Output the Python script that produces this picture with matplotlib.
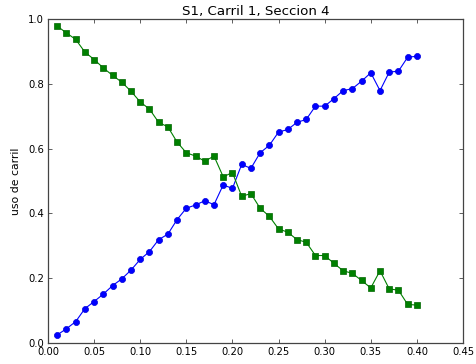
import matplotlib
matplotlib.use("Agg")
import matplotlib.pyplot as plt
import numpy as np

x = [0.01, 0.02, 0.03, 0.04, 0.05, 0.06, 0.07, 0.08, 0.09, 0.10,
     0.11, 0.12, 0.13, 0.14, 0.15, 0.16, 0.17, 0.18, 0.19, 0.20,
     0.21, 0.22, 0.23, 0.24, 0.25, 0.26, 0.27, 0.28, 0.29, 0.30,
     0.31, 0.32, 0.33, 0.34, 0.35, 0.36, 0.37, 0.38, 0.39, 0.40]

carril_azul = [0.025, 0.044, 0.066, 0.106, 0.128, 0.151, 0.177, 0.198, 0.225, 0.258,
               0.282, 0.319, 0.336, 0.381, 0.416, 0.426, 0.439, 0.427, 0.488, 0.477,
               0.551, 0.539, 0.587, 0.610, 0.651, 0.659, 0.681, 0.690, 0.731, 0.731,
               0.754, 0.779, 0.785, 0.808, 0.834, 0.779, 0.836, 0.839, 0.882, 0.885]

carril_verde = [0.978, 0.957, 0.937, 0.898, 0.875, 0.849, 0.826, 0.805, 0.777, 0.744,
                0.722, 0.681, 0.667, 0.620, 0.587, 0.577, 0.561, 0.577, 0.513, 0.526,
                0.453, 0.461, 0.416, 0.391, 0.352, 0.342, 0.319, 0.311, 0.270, 0.270,
                0.246, 0.223, 0.215, 0.193, 0.170, 0.223, 0.167, 0.163, 0.119, 0.117]

fig = plt.figure(figsize=(4.76, 3.64), dpi=100)
ax = fig.add_axes([48 / 476, 1 - 343 / 364, (463 - 48) / 476, (343 - 19) / 364])

ax.plot(x, carril_azul, '-o', color='#0000ff', lw=0.8, ms=4.4, mec='#0000dd', mew=0.5)
ax.plot(x, carril_verde, '-s', color='#008000', lw=0.8, ms=4.2, mec='#006600', mew=0.5)

ax.set_xlim(0, 0.45)
ax.set_ylim(0, 1.0)
ax.set_xticks(np.arange(0, 0.46, 0.05))
ax.set_yticks(np.arange(0, 1.01, 0.2))
ax.xaxis.set_major_formatter(matplotlib.ticker.FormatStrFormatter('%.2f'))
ax.yaxis.set_major_formatter(matplotlib.ticker.FormatStrFormatter('%.1f'))
ax.tick_params(direction='in', top=True, right=True, length=3, width=0.6,
               color='#444444', labelsize=7.2, pad=3)
for s in ax.spines.values():
    s.set_color('#444444')
    s.set_linewidth(0.9)

ax.set_title('S1, Carril 1, Seccion 4', fontsize=9.6, pad=3)
ax.set_ylabel('uso de carril', fontsize=7.8, labelpad=5)

fig.savefig('out.png', dpi=100, facecolor='white')
